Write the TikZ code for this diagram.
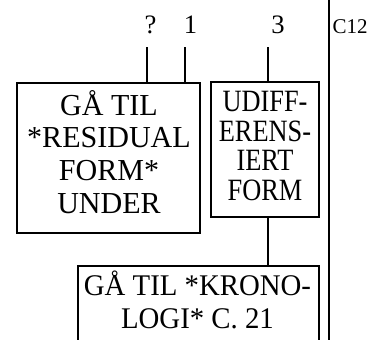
\documentclass[tikz,border=0pt]{standalone}
\usepackage{fontspec}
\setmainfont{Liberation Serif}
\newcommand{\boxtext}[2]{\scalebox{#1}[1]{\begin{tabular}[t]{@{}c@{}}#2\end{tabular}}}
\begin{document}
\begin{tikzpicture}[x=1pt,y=-1pt,
  boxline/.style={line width=1.7pt},
  box/.style={draw, boxline, inner sep=0pt},
  txt/.style={anchor=base, inner sep=0pt},
  leftf/.style={font=\fontsize{30.5}{32.7}\selectfont},
  midf/.style={font=\fontsize{31}{29.5}\selectfont},
  botf/.style={font=\fontsize{30}{33}\selectfont},
  lab/.style={font=\fontsize{26.6}{30}\selectfont, anchor=base, inner sep=0pt},
  conn/.style={line width=1.3pt}]
\useasboundingbox (0,0) rectangle (383,340);
\clip (0,0) rectangle (383,340);
% boxes
\node[box,minimum width=183pt,minimum height=150pt] (left) at (108.5,158) {};
\node[txt,leftf] (lefttext) at (109,115) {\boxtext{0.985}{GÅ TIL\\{}*RESIDUAL\\FORM*\\UNDER}};
\node[box,minimum width=108pt,minimum height=135pt] (midbox) at (265,149.5) {};
\node[txt,midf] (midtext) at (265,111.5) {\boxtext{0.85}{UDIFF-\\ERENS-\\IERT\\FORM}};
\coordinate (bottop) at (198.5,266);
\draw[boxline] (78,380) |- (bottop) -| (319,380);
\node[txt,botf] (bot) at (197.5,295) {\boxtext{0.96}{GÅ TIL *KRONO-\\LOGI* C. 21}};
% labels
\node[lab] (q) at (150.5,33) {?};
\node[lab] (one) at (190.5,33) {1};
\node[lab] (three) at (278,33) {3};
\node[anchor=base west, inner sep=0pt, font=\fontsize{21}{24}\selectfont] (c12) at (332.5,33) {C12};
% connectors
\coordinate (q0) at (147,47);
\coordinate (o0) at (185,47);
\coordinate (t0) at (268,47);
\draw[conn] (q0) -- (q0 |- left.north);
\draw[conn] (o0) -- (o0 |- left.north);
\draw[conn] (t0) -- (t0 |- midbox.north);
\draw[conn] (t0 |- midbox.south) -- (t0 |- bottop);
% right rule
\coordinate (rtop) at (329,0);
\coordinate (rbot) at (329,340);
\draw[boxline] (rtop) -- (rbot);
\end{tikzpicture}
\end{document}
